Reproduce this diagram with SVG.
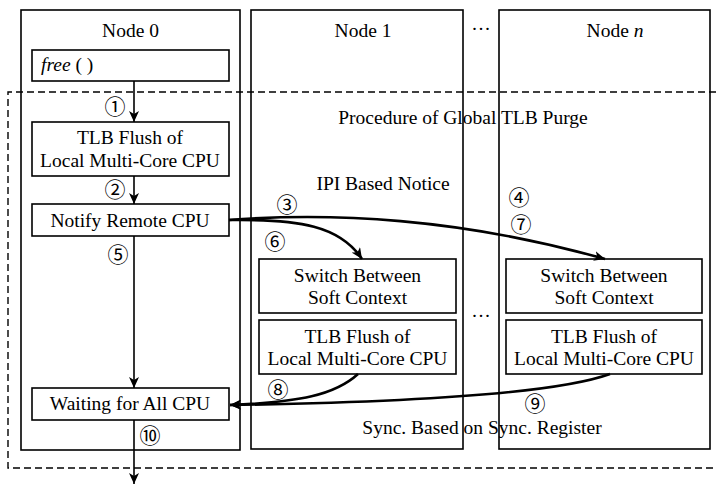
<svg xmlns="http://www.w3.org/2000/svg" width="717" height="486" viewBox="0 0 717 486">
<style>
.box{fill:none;stroke:#000;stroke-width:1.6}
.t{font-family:"Liberation Serif","Times New Roman",serif;font-size:19.5px;fill:#000;text-anchor:middle}
.n{font-family:"Noto Sans CJK SC","DejaVu Sans",sans-serif;font-size:21px;fill:#000;text-anchor:middle}
.ln{fill:none;stroke:#000;stroke-width:1.6}
.cv{fill:none;stroke:#000;stroke-width:2.6}
</style>
<defs>
<marker id="ah" markerUnits="userSpaceOnUse" markerWidth="12" markerHeight="10" refX="11" refY="5" orient="auto">
<path d="M0,0 L11,5 L0,10 L3,5 z" fill="#000"/>
</marker>
</defs>
<rect width="717" height="486" fill="#fff"/>

<g id="region">
<path d="M716,92 L8,92 L8,468 L716,468" fill="none" stroke="#000" stroke-width="1.4" stroke-dasharray="7 4"/>
<text class="t" x="463" y="124">Procedure of Global TLB Purge</text>
<text class="t" x="383" y="190">IPI Based Notice</text>
<text class="t" x="482" y="434">Sync. Based on Sync. Register</text>
<text class="t" x="481" y="35">···</text>
<text class="t" x="481" y="322">···</text>
</g>

<g id="node0">
<rect class="box" x="21" y="10" width="219" height="440"/>
<text class="t" x="130.5" y="37">Node 0</text>
</g>
<g id="free">
<rect class="box" x="32" y="50" width="197" height="31"/>
<text class="t" x="41" y="71" style="text-anchor:start"><tspan font-style="italic">free</tspan> ( )</text>
</g>
<g id="tlb0">
<rect class="box" x="32" y="122" width="197" height="54"/>
<text class="t" x="130" y="144">TLB Flush of</text>
<text class="t" x="130" y="167">Local Multi-Core CPU</text>
</g>
<g id="notify">
<rect class="box" x="32" y="204" width="197" height="32"/>
<text class="t" x="130" y="227">Notify Remote CPU</text>
</g>
<g id="waiting">
<rect class="box" x="32" y="388" width="197" height="32"/>
<text class="t" x="130" y="410">Waiting for All CPU</text>
</g>

<g id="node1">
<rect class="box" x="251" y="10" width="212" height="439"/>
<text class="t" x="363" y="37">Node 1</text>
</g>
<g id="switch1">
<rect class="box" x="259" y="259" width="197" height="54"/>
<text class="t" x="357.5" y="282">Switch Between</text>
<text class="t" x="357.5" y="304">Soft Context</text>
</g>
<g id="tlb1">
<rect class="box" x="259" y="320" width="197" height="54"/>
<text class="t" x="357.5" y="343">TLB Flush of</text>
<text class="t" x="357.5" y="365">Local Multi-Core CPU</text>
</g>

<g id="noden">
<rect class="box" x="499" y="10" width="211" height="439"/>
<text class="t" x="615" y="37">Node <tspan font-style="italic">n</tspan></text>
</g>
<g id="switchn">
<rect class="box" x="506" y="259" width="196" height="54"/>
<text class="t" x="604" y="282">Switch Between</text>
<text class="t" x="604" y="304">Soft Context</text>
</g>
<g id="tlbn">
<rect class="box" x="506" y="320" width="196" height="54"/>
<text class="t" x="604" y="343">TLB Flush of</text>
<text class="t" x="604" y="365">Local Multi-Core CPU</text>
</g>

<g id="connectors">
<line class="ln" x1="134" y1="81" x2="134" y2="122" marker-end="url(#ah)"/>
<line class="ln" x1="134" y1="176" x2="134" y2="204" marker-end="url(#ah)"/>
<line class="ln" x1="134" y1="236" x2="134" y2="388" marker-end="url(#ah)"/>
<line class="ln" x1="134" y1="420" x2="134" y2="484" marker-end="url(#ah)"/>
<path class="cv" d="M229,220 C300,219 340,226 362,259" marker-end="url(#ah)"/>
<path class="cv" d="M229,220 C330,212 460,218 605,259" marker-end="url(#ah)"/>
<path class="cv" d="M358,374 C335,395 300,402 230,405" marker-end="url(#ah)"/>
<path class="cv" d="M610,374 C560,392 430,402 230,405" marker-end="url(#ah)"/>
<text class="n" x="115" y="114">①</text>
<text class="n" x="115" y="197">②</text>
<text class="n" x="287" y="212">③</text>
<text class="n" x="519" y="205">④</text>
<text class="n" x="118" y="262">⑤</text>
<text class="n" x="275" y="249">⑥</text>
<text class="n" x="521" y="232">⑦</text>
<text class="n" x="278" y="397">⑧</text>
<text class="n" x="535" y="411">⑨</text>
<text class="n" x="150" y="443">⑩</text>
</g>
</svg>
